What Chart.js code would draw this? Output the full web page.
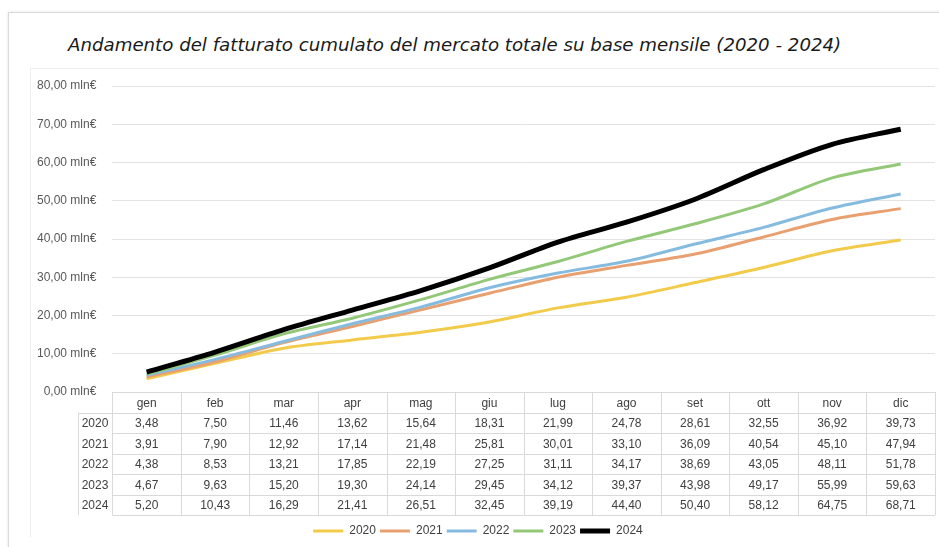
<!DOCTYPE html>
<html>
<head>
<meta charset="utf-8">
<script src="https://cdn.jsdelivr.net/npm/chart.js@4"></script>
<style>
  html, body { margin: 0; padding: 0; background: #fff; }
  #wrap { position: relative; width: 939px; height: 547px; }
  #frame { position: absolute; left: 8px; top: 12px; right: -2px; bottom: -2px; border: 1px solid #d9d9d9; box-shadow: 0 0 3px #e4e4e4; }
  #inner { position: absolute; left: 30px; top: 68px; right: 0; bottom: 10px; border-left: 1px solid #eeeeee; border-top: 1px solid #eeeeee; }
  #titolo { position: absolute; left: 68px; top: 34px; font-family: 'DejaVu Sans', sans-serif; font-style: italic; font-size: 18.2px; color: #1a1a1a; white-space: nowrap; line-height: 22px; }
  canvas { position: absolute; left: 0; top: 0; }
</style>
</head>
<body>
<div id="wrap">
  <div id="frame"></div>
  <div id="inner"></div>
  <div id="titolo">Andamento del fatturato cumulato del mercato totale su base mensile (2020 - 2024)</div>
  <canvas id="fatturatoChart" width="939" height="547"></canvas>
</div>
<script>
// Dati (mln€)
const mesi = ['gen', 'feb', 'mar', 'apr', 'mag', 'giu', 'lug', 'ago', 'set', 'ott', 'nov', 'dic'];
const anni = ['2020', '2021', '2022', '2023', '2024'];
const v2020 = [3.48, 7.50, 11.46, 13.62, 15.64, 18.31, 21.99, 24.78, 28.61, 32.55, 36.92, 39.73];
const v2021 = [3.91, 7.90, 12.92, 17.14, 21.48, 25.81, 30.01, 33.10, 36.09, 40.54, 45.10, 47.94];
const v2022 = [4.38, 8.53, 13.21, 17.85, 22.19, 27.25, 31.11, 34.17, 38.69, 43.05, 48.11, 51.78];
const v2023 = [4.67, 9.63, 15.20, 19.30, 24.14, 29.45, 34.12, 39.37, 43.98, 49.17, 55.99, 59.63];
const v2024 = [5.20, 10.43, 16.29, 21.41, 26.51, 32.45, 39.19, 44.40, 50.40, 58.12, 64.75, 68.71];
const yTicks = [0, 10, 20, 30, 40, 50, 60, 70, 80];

const serie = [v2020, v2021, v2022, v2023, v2024];
const colori = ['#f3cb4a', '#e9a070', '#86bbe0', '#92c878', '#000000'];
const spessori = [3, 3, 3, 3, 5];

const fmt = v => v.toFixed(2).replace('.', ',');
const FONT = "'Liberation Sans', Arial, sans-serif";
const ROW_H = 20.5;
const TABLE_LEFT = 78;

// Tabella dati disegnata sotto l'area del grafico
const tabellaPlugin = {
    id: 'tabella',
    afterDraw(chart) {
        const ctx = chart.ctx;
        const x = chart.scales.x;
        const area = chart.chartArea;
        const top = area.bottom;
        const colW = (area.right - area.left) / mesi.length;
        ctx.save();
        ctx.strokeStyle = '#d9d9d9';
        ctx.lineWidth = 1;
        ctx.beginPath();
        ctx.moveTo(area.left, Math.round(top) + 0.5);
        ctx.lineTo(area.right, Math.round(top) + 0.5);
        for (let r = 1; r <= anni.length + 1; r++) {
            const yy = Math.round(top + r * ROW_H) + 0.5;
            ctx.moveTo(r === 1 ? TABLE_LEFT : area.left, yy);
            ctx.lineTo(area.right, yy);
        }
        for (let c = 0; c <= mesi.length; c++) {
            const xx = Math.round(area.left + c * colW) + 0.5;
            ctx.moveTo(xx, top);
            ctx.lineTo(xx, top + (anni.length + 1) * ROW_H);
        }
        ctx.moveTo(TABLE_LEFT + 0.5, top + ROW_H);
        ctx.lineTo(TABLE_LEFT + 0.5, top + (anni.length + 1) * ROW_H);
        ctx.stroke();

        ctx.fillStyle = '#404040';
        ctx.font = '12px ' + FONT;
        ctx.textAlign = 'center';
        ctx.textBaseline = 'middle';
        mesi.forEach((m, i) => {
            ctx.fillText(m, x.getPixelForValue(i), top + ROW_H / 2 + 1);
        });
        anni.forEach((a, r) => {
            const yy = top + (r + 1.5) * ROW_H + 1;
            ctx.textAlign = 'right';
            ctx.fillText(a, area.left - 4, yy);
            ctx.textAlign = 'center';
            serie[r].forEach((v, i) => {
                ctx.fillText(fmt(v), x.getPixelForValue(i), yy);
            });
        });
        ctx.restore();
    }
};

const ctx = document.getElementById('fatturatoChart');
new Chart(ctx, {
    type: 'line',
    data: {
        labels: mesi,
        datasets: anni.map((a, i) => ({
            label: a,
            data: serie[i],
            borderColor: colori[i],
            backgroundColor: colori[i],
            borderWidth: spessori[i],
            pointRadius: 0,
            tension: 0.3,
            order: anni.length - i
        }))
    },
    options: {
        responsive: false,
        animation: false,
        layout: {
            padding: { left: 21, right: 4, top: 86, bottom: 0 }
        },
        plugins: {
            title: { display: false },
            legend: {
                position: 'bottom',
                labels: {
                    color: '#404040',
                    font: { family: FONT, size: 12 },
                    usePointStyle: true,
                    pointStyle: 'line',
                    pointStyleWidth: 30,
                    boxWidth: 30,
                    padding: 4,
                    sort: (a, b) => a.datasetIndex - b.datasetIndex
                }
            },
            tooltip: { enabled: false }
        },
        scales: {
            x: {
                offset: true,
                grid: { display: false },
                border: { display: false },
                ticks: { display: false },
                afterFit(scale) { scale.height = 129; }
            },
            y: {
                min: 0,
                max: 80,
                afterBuildTicks(scale) { scale.ticks = yTicks.map(v => ({ value: v })); },
                grid: { color: '#e3e3e3', drawTicks: false },
                border: { display: false },
                ticks: {
                    color: '#595959',
                    font: { family: FONT, size: 12 },
                    padding: 16,
                    callback: v => fmt(v) + ' mln€'
                }
            }
        }
    },
    plugins: [tabellaPlugin]
});
</script>
</body>
</html>
